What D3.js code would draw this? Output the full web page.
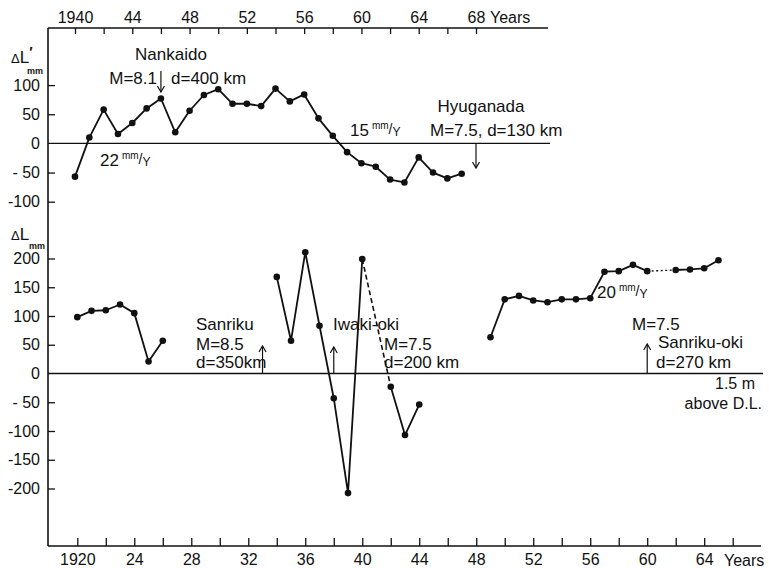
<!DOCTYPE html>
<html>
<head>
<meta charset="utf-8">
<script src="https://cdn.jsdelivr.net/npm/d3@7/dist/d3.min.js"></script>
<style>
  html, body { margin: 0; padding: 0; background: #fff; }
  svg { display: block; }
  text { font-family: "Liberation Sans", Arial, sans-serif; fill: #111; }
</style>
</head>
<body>
<svg id="chart" width="769" height="568"></svg>
<script>
// ---------------- DATA ----------------
// Upper panel: ΔL' (mm), 1940–1967
const topYears = [1940,1941,1942,1943,1944,1945,1946,1947,1948,1949,1950,1951,1952,1953,
                  1954,1955,1956,1957,1958,1959,1960,1961,1962,1963,1964,1965,1966,1967];
const topValues = [-57,10,58,16,35,60,77,19,56,83,93,68,68,64,
                   94,72,84,43,13,-15,-34,-40,-62,-67,-24,-50,-60,-52];

// Lower panel: ΔL (mm), three separate records
const bottomYearsA = [1920,1921,1922,1923,1924,1925,1926];
const bottomValuesA = [98,109,110,120,105,21,57];
const bottomYearsB = [1934,1935,1936,1937,1938,1939,1940,1942,1943,1944];
const bottomValuesB = [168,57,211,83,-43,-208,199,-23,-107,-54];
const bottomYearsC = [1949,1950,1951,1952,1953,1954,1955,1956,1957,1958,1959,1960,1962,1963,1964,1965];
const bottomValuesC = [63,129,135,127,124,129,129,131,177,178,189,178,180,181,183,197];
// gaps bridged with broken lines: [from, to, style]
const brokenLinks = [[1940,1942,"dash"],[1960,1962,"dot"]];

// Axis ticks
const topTickYears = [1940,1942,1944,1946,1948,1950,1952,1954,1956,1958,1960,1962,1964,1966,1968];
const topTickLabels = ["1940","","44","","48","","52","","56","","60","","64","","68"];
const bottomTickYears = [1920,1922,1924,1926,1928,1930,1932,1934,1936,1938,1940,1942,1944,
                         1946,1948,1950,1952,1954,1956,1958,1960,1962,1964,1966];
const bottomTickLabels = ["1920","","24","","28","","32","","36","","40","","44",
                          "","48","","52","","56","","60","","64",""];
const topYTicks = [-100,-50,0,50,100];
const topYLabels = ["-100","- 50","0","50","100"];
const bottomYTicks = [-200,-150,-100,-50,0,50,100,150,200];
const bottomYLabels = ["-200","-150","-100","- 50","0","50","100","150","200"];

// Earthquake events (years)
const topEvents = [1946, 1968];
const bottomEvents = [1933, 1938, 1960];

// ---------------- CHART ----------------
const svg = d3.select("#chart");
const xTop = d3.scaleLinear().domain([1940,1968]).range([75,476]);
const xBot = d3.scaleLinear().domain([1920,1966]).range([77.3,732.7]);
const yTop = d3.scaleLinear().domain([-100,100]).range([201.7,85.1]);
const yBot = d3.scaleLinear().domain([-200,200]).range([488.5,258.5]);

const axisX = 48, topAxisY = 28, botAxisY = 546;
const ink = "#111";

function styleAxis(g, fs) {
  g.select(".domain").remove();
  g.selectAll(".tick line").attr("stroke", ink).attr("stroke-width", 1.3);
  g.selectAll(".tick text").attr("fill", ink).style("font-size", fs + "px")
    .style("font-family", '"Liberation Sans", Arial, sans-serif');
}

// frame lines
svg.append("line").attr("x1", axisX).attr("x2", 548).attr("y1", topAxisY).attr("y2", topAxisY)
  .attr("stroke", ink).attr("stroke-width", 1.5);
svg.append("line").attr("x1", axisX).attr("x2", axisX).attr("y1", topAxisY).attr("y2", botAxisY)
  .attr("stroke", ink).attr("stroke-width", 1.6);
svg.append("line").attr("x1", axisX).attr("x2", 761).attr("y1", botAxisY).attr("y2", botAxisY)
  .attr("stroke", ink).attr("stroke-width", 1.5);
// zero lines
svg.append("line").attr("x1", axisX).attr("x2", 550).attr("y1", yTop(0)).attr("y2", yTop(0))
  .attr("stroke", ink).attr("stroke-width", 1.3);
svg.append("line").attr("x1", axisX).attr("x2", 763).attr("y1", yBot(0)).attr("y2", yBot(0))
  .attr("stroke", ink).attr("stroke-width", 1.3);

// top x axis
svg.append("g").attr("transform", `translate(0,${topAxisY})`)
  .call(d3.axisTop(xTop).tickValues(topTickYears).tickSize(-6).tickPadding(5)
    .tickFormat((d,i) => topTickLabels[i]))
  .call(g => styleAxis(g, 16));
svg.append("text").attr("x", xTop(1968) + 14).attr("y", topAxisY - 5)
  .style("font-size", "16px").text("Years");

// bottom x axis
svg.append("g").attr("transform", `translate(0,${botAxisY})`)
  .call(d3.axisBottom(xBot).tickValues(bottomTickYears).tickSize(-8).tickPadding(8)
    .tickFormat((d,i) => bottomTickLabels[i]))
  .call(g => styleAxis(g, 16));
svg.append("text").attr("x", 724).attr("y", 566)
  .style("font-size", "16px").text("Years");

// y axes
svg.append("g").attr("transform", `translate(${axisX},0)`)
  .call(d3.axisLeft(yTop).tickValues(topYTicks).tickSize(-7).tickPadding(8)
    .tickFormat((d,i) => topYLabels[i]))
  .call(g => styleAxis(g, 16))
  .call(g => g.selectAll(".tick").filter(d => d === 0).select("line").remove());
svg.append("g").attr("transform", `translate(${axisX},0)`)
  .call(d3.axisLeft(yBot).tickValues(bottomYTicks).tickSize(-7).tickPadding(8)
    .tickFormat((d,i) => bottomYLabels[i]))
  .call(g => styleAxis(g, 16))
  .call(g => g.selectAll(".tick").filter(d => d === 0).select("line").remove());

// axis unit labels
const lab1 = svg.append("text").attr("x", 11).attr("y", 63).style("font-size", "17px");
lab1.append("tspan").style("font-size", "13px").text("Δ");
lab1.append("tspan").text("L");
lab1.append("tspan").attr("dy", -6).style("font-size", "14px").style("font-weight", "bold").text("′");
svg.append("text").attr("x", 27).attr("y", 74).style("font-size", "9px").style("font-weight", "bold").text("mm");
const lab2 = svg.append("text").attr("x", 11).attr("y", 240).style("font-size", "17px");
lab2.append("tspan").style("font-size", "13px").text("Δ");
lab2.append("tspan").text("L");
svg.append("text").attr("x", 29).attr("y", 249).style("font-size", "9px").style("font-weight", "bold").text("mm");

// ---- series drawing ----
const lineW = 1.8, rDot = 3.3;
function drawSeries(xs, ys, xScale, yScale) {
  const pts = xs.map((x,i) => ({x, y: ys[i]}));
  let runs = [], cur = [pts[0]];
  for (let i = 1; i < pts.length; i++) {
    if (pts[i].x - pts[i-1].x === 1) cur.push(pts[i]);
    else { runs.push(cur); cur = [pts[i]]; }
  }
  runs.push(cur);
  const line = d3.line().x(d => xScale(d.x)).y(d => yScale(d.y));
  runs.forEach(r => {
    svg.append("path").attr("d", line(r)).attr("fill", "none")
      .attr("stroke", ink).attr("stroke-width", lineW).attr("stroke-linejoin", "round");
  });
  brokenLinks.forEach(([a,b,style]) => {
    const pa = pts.find(p => p.x === a), pb = pts.find(p => p.x === b);
    if (pa && pb && pts.indexOf(pb) - pts.indexOf(pa) === 1) {
      svg.append("path").attr("d", line([pa,pb])).attr("fill", "none")
        .attr("stroke", ink).attr("stroke-width", style === "dash" ? 1.6 : 1.4)
        .attr("stroke-dasharray", style === "dash" ? "5,3" : "2,2.5");
    }
  });
  svg.append("g").selectAll("circle").data(pts).join("circle")
    .attr("cx", d => xScale(d.x)).attr("cy", d => yScale(d.y)).attr("r", rDot).attr("fill", ink);
}
drawSeries(topYears, topValues, xTop, yTop);
drawSeries(bottomYearsA, bottomValuesA, xBot, yBot);
drawSeries(bottomYearsB, bottomValuesB, xBot, yBot);
drawSeries(bottomYearsC, bottomValuesC, xBot, yBot);

// ---- arrows ----
function arrow(x, y1, y2) {
  const dir = y2 > y1 ? 1 : -1;
  svg.append("line").attr("x1", x).attr("x2", x).attr("y1", y1).attr("y2", y2)
    .attr("stroke", ink).attr("stroke-width", 1.2);
  svg.append("path")
    .attr("d", `M${x-3.5},${y2 - dir*6} L${x},${y2} L${x+3.5},${y2 - dir*6}`)
    .attr("fill", "none").attr("stroke", ink).attr("stroke-width", 1.2);
}
arrow(xTop(topEvents[0]), 71, 92);
arrow(xTop(topEvents[1]), yTop(0), 168);
arrow(xBot(bottomEvents[0]), yBot(0), 346);
arrow(xBot(bottomEvents[1]), yBot(0), 347);
arrow(xBot(bottomEvents[2]), yBot(0), 344);

// ---- annotations ----
function txt(x, y, s, anchor, fs) {
  return svg.append("text").attr("x", x).attr("y", y).attr("text-anchor", anchor || "start")
    .style("font-size", (fs || 17) + "px").text(s);
}
function rate(x, y, num) {
  const t = svg.append("text").attr("x", x).attr("y", y).style("font-size", "17px");
  t.append("tspan").text(num);
  t.append("tspan").attr("dx", 3).attr("dy", -7).style("font-size", "10px").text("mm");
  t.append("tspan").attr("dy", 5).style("font-size", "14px").text("/");
  t.append("tspan").attr("dy", 2).style("font-size", "12px").text("Y");
}
txt(171, 60, "Nankaido", "middle");
txt(157, 84, "M=8.1", "end");
txt(171, 84, "d=400 km");
rate(100, 166, "22");
rate(350, 136, "15");
txt(481, 112, "Hyuganada", "middle");
txt(430, 136, "M=7.5,  d=130 km");

txt(196, 330, "Sanriku");
txt(196, 350, "M=8.5");
txt(196, 368, "d=350km");
txt(333, 330, "Iwaki-oki");
txt(384, 350, "M=7.5");
txt(384, 368, "d=200 km");
rate(597, 298, "20");
txt(632, 330, "M=7.5");
txt(658, 348, "Sanriku-oki");
txt(656, 368, "d=270 km");
txt(755, 389, "1.5 m", "end", 16);
txt(762, 409, "above D.L.", "end", 16);
</script>
</body>
</html>
